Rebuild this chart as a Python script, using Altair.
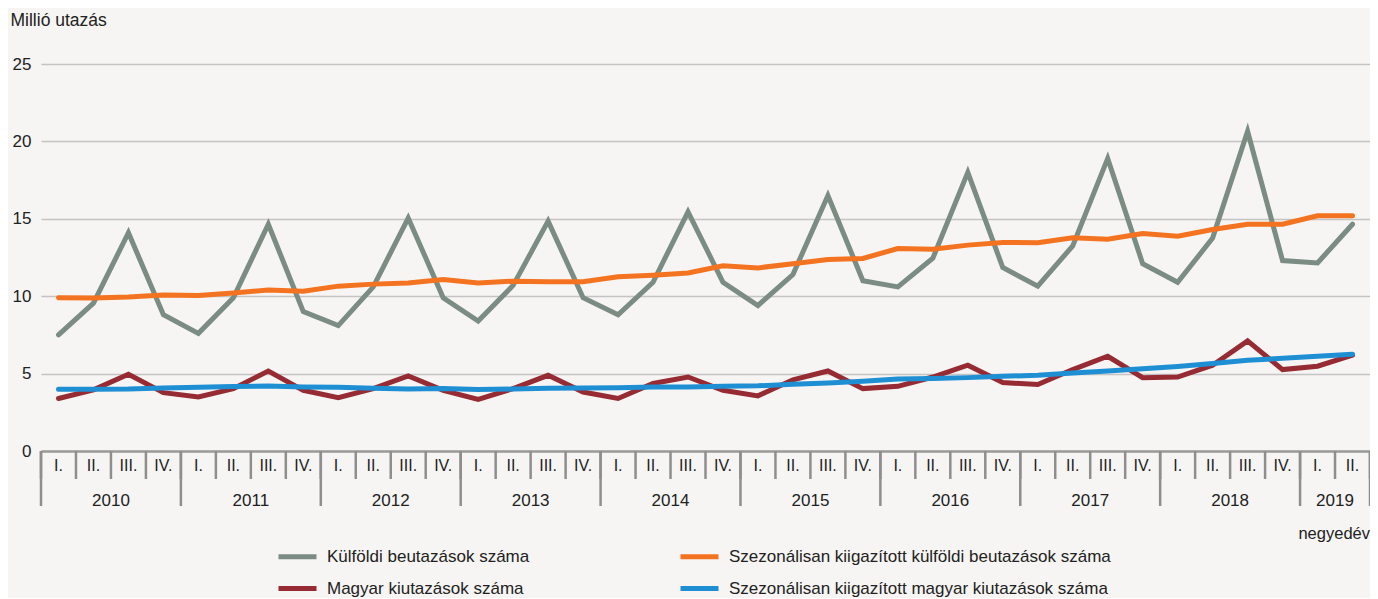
import altair as alt
import pandas as pd

# ---- data ----
quarters = ["I.", "II.", "III.", "IV."] * 9 + ["I.", "II."]
years = ["2010", "2011", "2012", "2013", "2014", "2015", "2016", "2017", "2018", "2019"]
year_quarters = [4, 4, 4, 4, 4, 4, 4, 4, 4, 2]

kulfoldi = [7.5, 9.55, 14.1, 8.8, 7.6, 9.9, 14.65, 9.0, 8.1, 10.6, 15.05, 9.9,
            8.4, 10.7, 14.85, 9.9, 8.8, 10.9, 15.45, 10.9, 9.4, 11.4, 16.5, 11.0,
            10.6, 12.45, 18.0, 11.85, 10.65, 13.25, 18.9, 12.1, 10.9, 13.75, 20.65, 12.3,
            12.15, 14.65]
kulfoldi_sa = [9.9, 9.88, 9.95, 10.08, 10.05, 10.2, 10.4, 10.32, 10.65, 10.78, 10.86, 11.08,
               10.86, 10.97, 10.93, 10.93, 11.25, 11.36, 11.5, 11.96, 11.83, 12.1, 12.37, 12.44,
               13.08, 13.04, 13.3, 13.47, 13.45, 13.77, 13.68, 14.05, 13.88, 14.31, 14.65, 14.65,
               15.19, 15.19]
magyar = [3.39, 3.95, 4.96, 3.77, 3.49, 4.03, 5.17, 3.92, 3.45, 4.03, 4.85, 3.92,
          3.34, 4.03, 4.89, 3.81, 3.39, 4.36, 4.78, 3.92, 3.56, 4.6, 5.17, 4.03,
          4.18, 4.78, 5.54, 4.42, 4.29, 5.26, 6.12, 4.74, 4.78, 5.54, 7.11, 5.26,
          5.48, 6.19]
magyar_sa = [3.99, 3.99, 4.0, 4.07, 4.12, 4.16, 4.2, 4.14, 4.12, 4.06, 4.01, 4.03,
             3.97, 4.0, 4.06, 4.07, 4.09, 4.13, 4.14, 4.18, 4.21, 4.31, 4.4, 4.5,
             4.65, 4.69, 4.74, 4.83, 4.89, 5.04, 5.17, 5.31, 5.46, 5.65, 5.86, 5.99,
             6.12, 6.25]

# legend order (column-major, 2 columns)
series_names = [
    "Külföldi beutazások száma",
    "Magyar kiutazások száma",
    "Szezonálisan kiigazított külföldi beutazások száma",
    "Szezonálisan kiigazított  magyar kiutazások száma",
]
series_values = [kulfoldi, magyar, kulfoldi_sa, magyar_sa]
colors = ["#7b8c82", "#962b33", "#f47320", "#1f8fd4"]
draw_order = [0, 2, 1, 3]

y_title = "Millió utazás"
x_unit = "negyedév"

FONT = "Liberation Sans, Arial, sans-serif"
TXT = "#222222"

# ---- tables ----
n = len(quarters)
rows = []
for name, vals in zip(series_names, series_values):
    for i, v in enumerate(vals):
        rows.append({"series": name, "pos": i + 0.5, "value": v})
df = pd.DataFrame(rows)

df_q = pd.DataFrame({"pos": [i + 0.5 for i in range(n)], "label": quarters})
starts = []
s = 0
for c in year_quarters:
    starts.append(s)
    s += c
df_y = pd.DataFrame({"pos": [st + c / 2 for st, c in zip(starts, year_quarters)], "label": years})
df_sep = pd.DataFrame({"b": list(range(n + 1))})
df_ysep = pd.DataFrame({"b": starts + [n]})

W, H = 1329, 387
xscale = alt.Scale(domain=[0, n], nice=False, zero=False)
yscale = alt.Scale(domain=[0, 25], nice=False)
cscale = alt.Scale(domain=series_names, range=colors)

x_axis = alt.Axis(labels=False, ticks=False, grid=False, domain=True,
                  domainColor="#9b9b9b", domainWidth=2.5, title=None)
y_axis = alt.Axis(values=[0, 5, 10, 15, 20, 25], grid=True, gridColor="#c4c4c4", gridWidth=1.5,
                  domain=False, ticks=False, labelPadding=10, labelFontSize=17,
                  labelColor=TXT, labelFont=FONT,
                  title=y_title, titleAngle=0, titleAlign="left", titleBaseline="middle",
                  titleX=-31, titleY=-44, titleFontSize=17.5, titleFontWeight="normal",
                  titleColor=TXT, titleFont=FONT)
legend = alt.Legend(orient="none", legendX=235, legendY=471, columns=2, title=None,
                    direction="vertical", gridAlign="each",
                    symbolType="stroke", symbolSize=1444, symbolStrokeWidth=5,
                    labelFontSize=17, labelFont=FONT, labelColor=TXT, labelOffset=8,
                    columnPadding=140, rowPadding=-6, padding=0, labelLimit=500)

layers = []
for k in draw_order:
    name = series_names[k]
    layers.append(
        alt.Chart(df).transform_filter(alt.datum.series == name)
        .mark_line(strokeWidth=5, strokeCap="round")
        .encode(
            x=alt.X("pos:Q", scale=xscale, axis=x_axis),
            y=alt.Y("value:Q", scale=yscale, axis=y_axis),
            color=alt.Color("series:N", scale=cscale, legend=legend),
        )
    )

sep = alt.Chart(df_sep).mark_rule(color="#8e8e8e", strokeWidth=2.5).encode(
    x=alt.X("b:Q", scale=xscale), y=alt.value(H), y2=alt.value(H + 28))
ysep = alt.Chart(df_ysep).mark_rule(color="#8e8e8e", strokeWidth=2.5).encode(
    x=alt.X("b:Q", scale=xscale), y=alt.value(H), y2=alt.value(H + 55))
qlab = alt.Chart(df_q).mark_text(fontSize=16, font=FONT, color=TXT, baseline="middle").encode(
    x=alt.X("pos:Q", scale=xscale), y=alt.value(H + 15), text="label:N")
ylab = alt.Chart(df_y).mark_text(fontSize=17, font=FONT, color=TXT, baseline="middle").encode(
    x=alt.X("pos:Q", scale=xscale), y=alt.value(H + 50), text="label:N")
unit = alt.Chart(pd.DataFrame({"t": [x_unit]})).mark_text(
    fontSize=16.5, font=FONT, color=TXT, align="right", baseline="middle").encode(
    x=alt.value(W), y=alt.value(H + 83), text="t:N")

chart = alt.layer(*layers, sep, ysep, qlab, ylab, unit).properties(
    width=W, height=H,
    padding={"left": 33, "top": 56, "right": 0, "bottom": 147},
    autosize=alt.AutoSizeParams(type="none"),
).configure(background="#f6f5f3", font=FONT).configure_view(stroke=None)

chart.save("out.html", embed_options={"renderer": "svg", "actions": False})
